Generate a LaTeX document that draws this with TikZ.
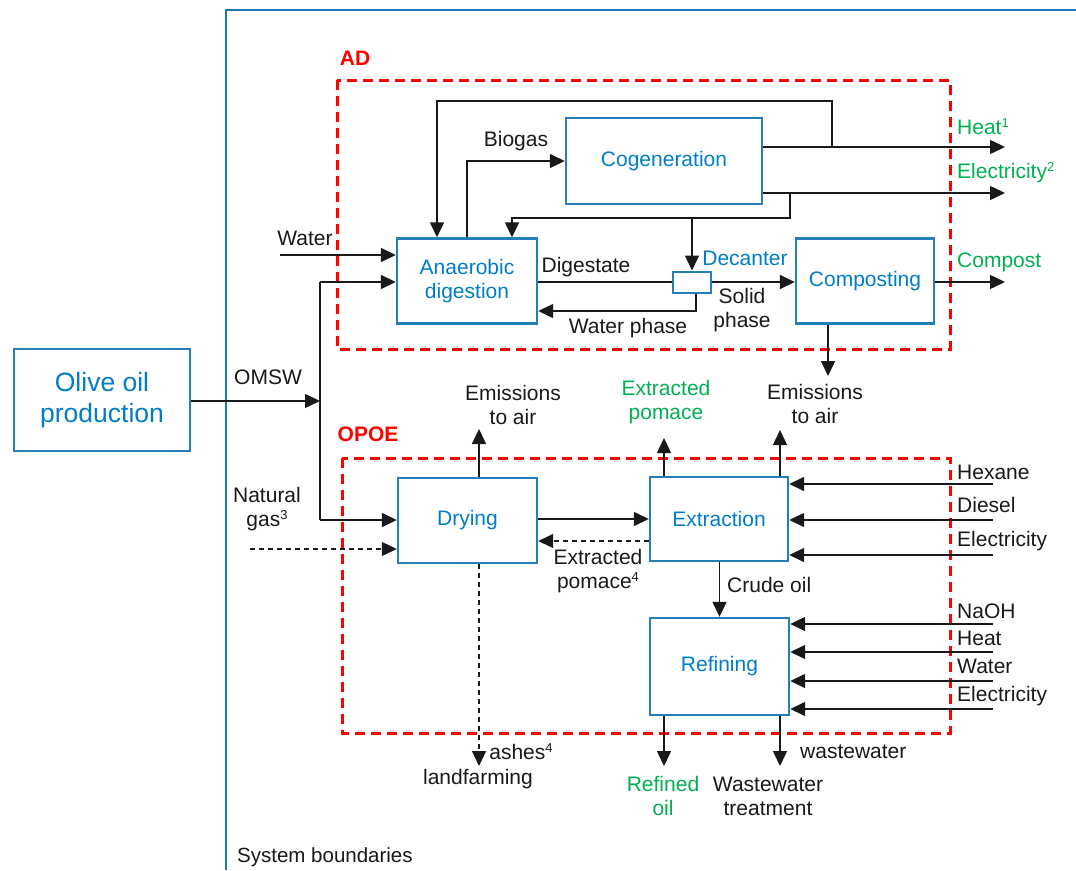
\documentclass[tikz,border=0pt]{standalone}
\usepackage{fontspec}
\setmainfont{Liberation Sans}
\usetikzlibrary{arrows.meta}
\definecolor{boxblue}{RGB}{36,126,186}
\definecolor{txtblue}{RGB}{0,125,200}
\definecolor{grn}{RGB}{0,176,80}
\definecolor{sysblue}{RGB}{31,119,180}
\newcommand{\supn}[1]{\raisebox{0.62ex}{\fontsize{13}{13}\selectfont #1}}
\tikzset{
  fs/.style={font=\fontsize{21}{24}\selectfont},
  box/.style={draw=boxblue, line width=2.4pt, text=txtblue, fs, align=center, inner sep=0pt},
  flow/.style={draw=black!90, line width=1.5pt, -{Triangle[length=15pt,width=14pt]}},
  plain/.style={draw=black!90, line width=1.5pt},
  dflow/.style={draw=black!90, line width=1.1pt, dash pattern=on 5pt off 4pt, -{Triangle[length=15pt,width=14pt]}},
  lbl/.style={fs, text=black!90, align=center, inner sep=0pt},
  glbl/.style={fs, text=grn, align=center, inner sep=0pt},
  redzone/.style={draw=red, line width=3pt, dash pattern=on 10pt off 6pt},
  redlbl/.style={font=\fontsize{21}{24}\selectfont\bfseries, text=red, inner sep=0pt},
}
\begin{document}
\begin{tikzpicture}[x=1pt,y=-1pt]
\useasboundingbox (0,0) rectangle (1076,870);
% system boundary
\draw[draw=sysblue, line width=2pt] (226,870) -- (226,10) -- (1076,10);
\node[lbl, anchor=west, font=\fontsize{20.5}{24}\selectfont] (sysl) at (237,857) {System boundaries};

% olive oil production
\node[box, minimum width=176pt, minimum height=102pt, font=\fontsize{26.5}{31}\selectfont] (olive) at (102,400) {Olive oil\\production};

% zones
\draw[redzone] (337,80) rectangle (950,349);
\node[redlbl] (adl) at (355,58) {AD};
\draw[redzone] (342,458) rectangle (950,733);
\node[redlbl] (opl) at (368,434) {OPOE};

% AD boxes
\node[box, minimum width=140pt, minimum height=85pt] (ad) at (467,281) {Anaerobic\\digestion};
\node[box, minimum width=196pt, minimum height=86pt] (cog) at (664,161) {Cogeneration};
\node[box, minimum width=138pt, minimum height=85pt] (comp) at (865,281) {Composting};
\node[box, minimum width=38pt, minimum height=21pt, line width=2pt] (dec) at (692,282) {};
\node[lbl, text=txtblue] (decl) at (745,258) {Decanter};

% OPOE boxes
\node[box, minimum width=139pt, minimum height=85pt] (dry) at (467.5,520.5) {Drying};
\node[box, minimum width=138pt, minimum height=84pt] (ext) at (719,519) {Extraction};
\node[box, minimum width=139pt, minimum height=97pt] (ref) at (719.5,666.5) {Refining};

% coordinates
\coordinate (j1) at (320,401);
\coordinate (j2) at (320,282);
\coordinate (j3) at (320,520);
\coordinate (h1) at (832,147);
\coordinate (fbA) at (437,101);
\coordinate (heatE) at (1005,147);
\coordinate (elecE) at (1005,193);
\coordinate (e1) at (790,193);
\coordinate (e2) at (512,218);
\coordinate (wp) at (696,311);
\coordinate (wIn) at (280,255);
\coordinate (compE) at (1005,282);
\coordinate (compEm) at (828,376);
\coordinate (ngIn) at (250,549);
\coordinate (dryEm) at (479,429);
\coordinate (ash) at (479,766);
\coordinate (pom) at (664,438);
\coordinate (extEm) at (780,430);
\coordinate (refO) at (664,766);
\coordinate (wwO) at (780,766);

% OMSW
\draw[flow] (olive.east |- j1) -- (j1);
\node[lbl] (omswl) at (268,377) {OMSW};
\draw[plain] (j2) -- (j3);
\draw[flow] (j2) -- (ad.west |- j2);
\draw[flow] (j3) -- (dry.west |- j3);

% water
\draw[flow] (wIn) -- (ad.west |- wIn);
\node[lbl] (waterl) at (305,238) {Water};

% biogas
\draw[flow] (ad.north) |- (cog.west);
\node[lbl] (biol) at (516,141) {Biogas};

% heat / electricity
\draw[flow] (cog.east |- h1) -- (heatE);
\node[glbl, anchor=west] (heatl) at (957,127) {Heat\supn{1}};
\draw[flow] (cog.east |- elecE) -- (elecE);
\node[glbl, anchor=west] (elecl) at (957,173) {Electricity\supn{2}};

% feedback loops
\draw[flow] (h1) |- (fbA) -- (fbA |- ad.north);
\draw[flow] (e1) |- (e2) -- (e2 |- ad.north);
\draw[flow] (dec.north |- e2) -- (dec.north);

% digestate / decanter
\draw[plain] (ad.east |- dec.west) -- (dec.west);
\node[lbl] (digl) at (586,267) {Digestate};
\draw[flow] (dec.east) -- (comp.west |- dec.east);
\node[lbl] (solidl) at (742,310) {Solid\\phase};
\draw[flow] (dec.south -| wp) -- (wp) -- (wp -| ad.east);
\node[lbl] (wpl) at (628,328) {Water phase};

% compost
\draw[flow] (comp.east |- compE) -- (compE);
\node[glbl, anchor=west] (compl) at (957,262) {Compost};
\draw[flow] (comp.south -| compEm) -- (compEm);

% natural gas
\draw[dflow] (ngIn) -- (dry.west |- ngIn);
\node[lbl] (ngl) at (267,509) {Natural\\gas\supn{3}};

% drying
\draw[flow] (dry.north -| dryEm) -- (dryEm);
\node[lbl] (em1) at (513,405) {Emissions\\to air};
\draw[flow] (dry.east |- ext.west) -- (ext.west);
\coordinate (pb) at (0,541);
\draw[dflow] (ext.west |- pb) -- (dry.east |- pb);
\node[lbl] (pomb) at (598,571) {Extracted\\pomace\supn{4}};
\draw[dflow] (dry.south -| ash) -- (ash);
\node[lbl] (ashl) at (521,752) {ashes\supn{4}};
\node[lbl] (lfl) at (478,779) {landfarming};

% extraction outputs
\draw[flow] (ext.north -| pom) -- (pom);
\node[glbl] (pomg) at (666,402) {Extracted\\pomace};
\draw[flow] (ext.north -| extEm) -- (extEm);
\node[lbl] (em2) at (815,404) {Emissions\\to air};

% extraction inputs
\foreach \yy/\nm/\txt/\ly in {484/hx/Hexane/472, 520/ds/Diesel/505, 555/el1/Electricity/541}{
  \coordinate (\nm) at (993,\yy);
  \draw[flow] (\nm) -- (ext.east |- \nm);
  \node[lbl, anchor=west] (\nm l) at (957,\ly) {\txt};
}
% crude oil
\draw[flow] (ext.south -| ref.north) -- (ref.north);
\node[lbl, anchor=west] (crl) at (727,585) {Crude oil};

% refining inputs
\foreach \yy/\nm/\txt/\ly in {624/na/NaOH/611, 652/ht/Heat/638, 681/wt/Water/666, 709/el2/Electricity/696}{
  \coordinate (\nm) at (993,\yy);
  \draw[flow] (\nm) -- (ref.east |- \nm);
  \node[lbl, anchor=west] (\nm l) at (957,\ly) {\txt};
}

% refining outputs
\draw[flow] (ref.south -| refO) -- (refO);
\node[glbl] (rol) at (663,796) {Refined\\oil};
\draw[flow] (ref.south -| wwO) -- (wwO);
\node[lbl, anchor=west] (wwl) at (800,752) {wastewater};
\node[lbl] (wtl) at (768,796) {Wastewater\\treatment};
\end{tikzpicture}
\end{document}
